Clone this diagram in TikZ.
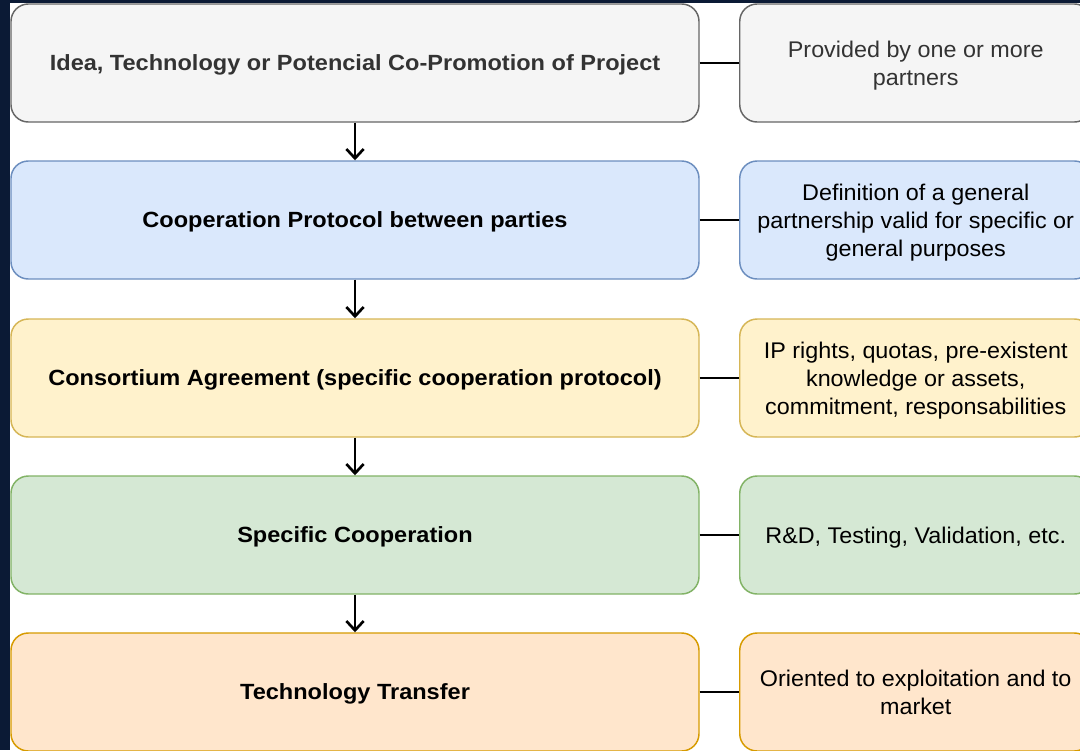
\documentclass[tikz,border=0pt]{standalone}
\usepackage{fontspec}
\setmainfont{Liberation Sans}
\newfontfamily\leftfont[FakeStretch=1.07]{Liberation Sans}
\newfontfamily\rightfont[FakeStretch=1.03]{Liberation Sans}
\usetikzlibrary{arrows.meta}
\definecolor{navy}{HTML}{0B1A35}
\definecolor{grayF}{HTML}{F5F5F5}\definecolor{grayS}{HTML}{666666}
\definecolor{blueF}{HTML}{DAE8FC}\definecolor{blueS}{HTML}{6C8EBF}
\definecolor{yelF}{HTML}{FFF2CC}\definecolor{yelS}{HTML}{D6B656}
\definecolor{grnF}{HTML}{D5E8D4}\definecolor{grnS}{HTML}{82B366}
\definecolor{orgF}{HTML}{FFE6CC}\definecolor{orgS}{HTML}{D79B00}
\definecolor{txtgray}{HTML}{333333}
\tikzset{
  box/.style={draw, rounded corners=13pt, line width=1.1pt, inner sep=0pt, text depth=0pt},
  leftbox/.style={box, minimum width=516pt, minimum height=88.5pt, font=\leftfont\bfseries\fontsize{16.5}{20}\selectfont},
  rightbox/.style={box, minimum width=264pt, minimum height=88.5pt, align=center, font=\rightfont\fontsize{17}{21}\selectfont},
  flow/.style={line width=2pt, -{Straight Barb[length=7pt,width=13pt,line width=2pt]}},
  link/.style={line width=1.2pt},
  s1/.style={fill=grayF, draw=grayS, text=txtgray},
  s2/.style={fill=blueF, draw=blueS, text=black},
  s3/.style={fill=yelF, draw=yelS, text=black},
  s4/.style={fill=grnF, draw=grnS, text=black},
  s5/.style={fill=orgF, draw=orgS, text=black},
}
\begin{document}
\begin{tikzpicture}[x=0.75pt,y=-0.75pt]
\useasboundingbox (0,0) rectangle (1080,750);
\clip (0,0) rectangle (1080,750);
\fill[white] (0,0) rectangle (1080,750);
\fill[navy] (0,0) rectangle (1080,3);
\fill[navy] (0,0) rectangle (10,750);

\node[leftbox,s1] (l1) at (355,63) {Idea, Technology or Potencial Co-Promotion of Project};
\node[leftbox,s2] (l2) at (355,220) {Cooperation Protocol between parties};
\node[leftbox,s3] (l3) at (355,378) {Consortium Agreement (specific cooperation protocol)};
\node[leftbox,s4] (l4) at (355,535) {Specific Cooperation};
\node[leftbox,s5] (l5) at (355,692) {Technology Transfer};

\node[rightbox,s1,anchor=west] (r1) at (739,63) {Provided by one or more\\partners};
\node[rightbox,s2,anchor=west] (r2) at (739,220) {Definition of a general\\partnership valid for specific or\\general purposes};
\node[rightbox,s3,anchor=west] (r3) at (739,378) {IP rights, quotas, pre-existent\\knowledge or assets,\\commitment, responsabilities};
\node[rightbox,s4,anchor=west] (r4) at (739,535) {R\&D, Testing, Validation, etc.};
\node[rightbox,s5,anchor=west] (r5) at (739,692) {Oriented to exploitation and to\\market};

\foreach \a/\b in {l1/l2,l2/l3,l3/l4,l4/l5}
  \draw[flow] (\a.south) -- (\b.north);
\foreach \i in {1,...,5}
  \draw[link] (l\i.east) -- (r\i.west);
\end{tikzpicture}
\end{document}
